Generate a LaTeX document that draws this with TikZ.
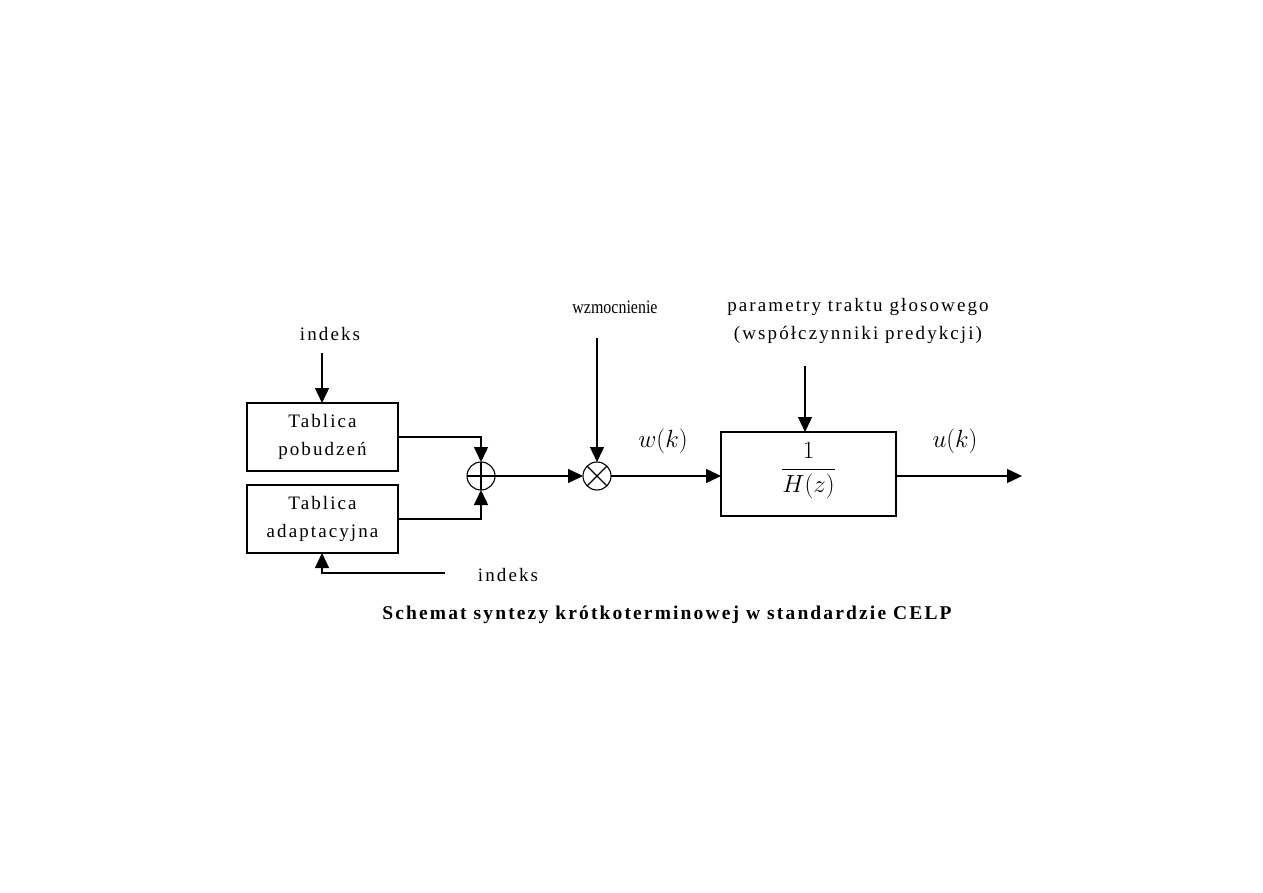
\documentclass[tikz,border=0pt]{standalone}
\usepackage{graphicx}
\usepackage{fontspec}
\setmainfont{Liberation Serif}[LetterSpace=11]
\newfontfamily\plainserif{Liberation Serif}
\usetikzlibrary{arrows.meta}
\begin{document}
\begin{tikzpicture}[x=1pt,y=-1pt,
  every node/.style={inner sep=0pt,outer sep=0pt},
  conn/.style={line width=1.4pt},
  arr/.style={conn,-{Triangle[length=15pt,width=14pt]}},
  blk/.style={draw,line width=1.4pt,rectangle,align=center,font=\fontsize{19}{28}\selectfont},
  lbl/.style={font=\fontsize{19}{28}\selectfont,align=center},
  op/.style={draw,line width=1.1pt,circle,minimum size=28pt},
  sig/.style={font=\fontsize{23}{26}\selectfont}]
\useasboundingbox (0,0) rectangle (1263,893);
% blocks
\node[blk,minimum width=151pt,minimum height=68pt] (box1) at (322.5,437) {Tablica\\pobudzeń};
\node[blk,minimum width=151pt,minimum height=68pt] (box2) at (322.5,519) {Tablica\\adaptacyjna};
\node[op] (sum) at (481,476) {};
\node[op] (mult) at (597,476) {};
\node[blk,minimum width=175pt,minimum height=84pt] (box3) at (808.5,474) {};
\node[sig] (frac) at (808.5,471) {$\displaystyle\frac{1}{H(z)}$};
% operator symbols
\draw[line width=1.1pt] (sum.north) -- (sum.south) (sum.west) -- (sum.east);
\draw[line width=1.1pt] (mult.north west) -- (mult.south east) (mult.north east) -- (mult.south west);
% labels
\node[lbl] (ind1) at (330,334) {indeks};
\node[lbl] (ind2) at (508,575) {indeks};
\node[lbl,font=\plainserif\fontsize{19}{22}\selectfont] (wzm) at (615,307) {\scalebox{0.84}[1]{wzmocnienie}};
\node[lbl] (par) at (858,321) {parametry traktu głosowego\\(współczynniki predykcji)};
\node[sig] (wk) at (663,441) {$w(k)$};
\node[sig] (uk) at (955,441) {$u(k)$};
\node[lbl,font=\bfseries\fontsize{19.5}{22}\selectfont] (cap) at (667,615) {Schemat syntezy krótkoterminowej w standardzie CELP};
% coordinates
\coordinate (in1) at (322,353);
\coordinate (in2) at (445,573);
\coordinate (in3) at (597,338);
\coordinate (in4) at (805,366);
\coordinate (out) at (1022,476);
% connectors
\draw[arr] (in1) -- (in1 |- box1.north);
\draw[arr] (box1.east) -| (sum.north);
\draw[arr] (box2.east) -| (sum.south);
\draw[arr] (in2) -| (in1 |- box2.south);
\draw[arr] (sum.east) -- (mult.west);
\draw[arr] (in3) -- (mult.north);
\draw[arr] (mult.east) -- (mult.east -| box3.west);
\draw[arr] (in4) -- (in4 |- box3.north);
\draw[arr] (box3.east |- out) -- (out);
\end{tikzpicture}
\end{document}
